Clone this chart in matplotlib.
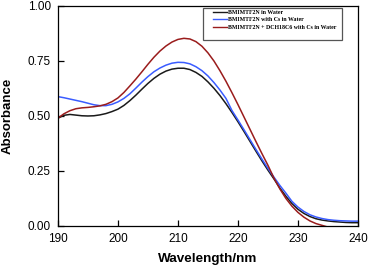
import matplotlib
matplotlib.use("Agg")
import matplotlib.pyplot as plt
from matplotlib.patches import Rectangle
import numpy as np

# wavelength grid (nm), 1 nm steps
wavelength = np.arange(190, 241)

abs_water = [0.490, 0.503, 0.507, 0.504, 0.501, 0.500, 0.501, 0.505, 0.511, 0.520,
             0.531, 0.548, 0.570, 0.595, 0.622, 0.648, 0.671, 0.690, 0.704, 0.713,
             0.717, 0.717, 0.711, 0.698, 0.680, 0.655, 0.626, 0.593, 0.556, 0.516,
             0.474, 0.430, 0.385, 0.340, 0.296, 0.254, 0.214, 0.172, 0.135, 0.102,
             0.076, 0.057, 0.043, 0.033, 0.027, 0.023, 0.020, 0.018, 0.016, 0.015,
             0.015]

abs_cs = [0.588, 0.583, 0.577, 0.571, 0.565, 0.558, 0.551, 0.547, 0.547, 0.553,
          0.564, 0.580, 0.601, 0.627, 0.654, 0.679, 0.701, 0.718, 0.731, 0.740,
          0.744, 0.743, 0.737, 0.724, 0.706, 0.682, 0.652, 0.618, 0.580, 0.525,
          0.482, 0.438, 0.393, 0.348, 0.304, 0.262, 0.222, 0.184, 0.149, 0.112,
          0.086, 0.066, 0.051, 0.041, 0.034, 0.029, 0.026, 0.024, 0.023, 0.022,
          0.022]

abs_dch = [0.490, 0.510, 0.524, 0.533, 0.537, 0.539, 0.542, 0.546, 0.553, 0.565,
           0.582, 0.607, 0.637, 0.668, 0.701, 0.735, 0.767, 0.795, 0.818, 0.836,
           0.848, 0.853, 0.850, 0.838, 0.817, 0.787, 0.750, 0.706, 0.658, 0.606,
           0.552, 0.496, 0.440, 0.384, 0.329, 0.276, 0.218, 0.168, 0.125, 0.090,
           0.062, 0.040, 0.023, 0.011, 0.003, -0.005, -0.010, -0.012, -0.013, -0.014,
           -0.014]

labels = ["BMIMTF2N in Water",
          "BMIMTF2N with Cs in Water",
          "BMIMTF2N + DCH18C6 with Cs in Water"]

fig = plt.figure(figsize=(3.69, 2.67), dpi=100)
ax = fig.add_axes([0.157, 0.1536, 0.813, 0.824])

ax.plot(wavelength, abs_water, color="#1a1a1a", lw=1.1, label=labels[0])
ax.plot(wavelength, abs_cs, color="#3a5cff", lw=1.1, label=labels[1])
ax.plot(wavelength, abs_dch, color="#9a1c1c", lw=1.1, label=labels[2])

ax.set_xlim(190, 240)
ax.set_ylim(0, 1.0)
ax.set_xticks([190, 200, 210, 220, 230, 240])
ax.set_yticks([0, 0.25, 0.5, 0.75, 1.0])
ax.set_yticklabels(["0.00", "0.25", "0.50", "0.75", "1.00"])

for lab in ax.get_xticklabels() + ax.get_yticklabels():
    lab.set_fontfamily("Liberation Sans")
    lab.set_fontsize(8.5)
ax.tick_params(direction="in", length=4, width=0.9, pad=5)
for sp in ax.spines.values():
    sp.set_linewidth(0.9)

ax.set_xlabel("Wavelength/nm", family="Liberation Sans", fontweight="bold",
              fontsize=9.7, labelpad=6)
ax.set_ylabel("Absorbance", family="Liberation Sans", fontweight="bold",
              fontsize=9.5, labelpad=10)

# legend box drawn separately (the original frame has extra room at the bottom)
ax.add_patch(Rectangle((0.482, 0.845), 0.465, 0.147, transform=ax.transAxes,
                       facecolor="white", edgecolor="#555555", lw=0.9, zorder=4))
leg = ax.legend(loc="upper left", bbox_to_anchor=(0.518, 0.983),
                prop={"family": "Liberation Serif", "weight": "bold", "size": 4.2},
                handlelength=2.3, handletextpad=0.3, labelspacing=0.4,
                borderpad=0, borderaxespad=0, frameon=False)
leg.set_zorder(5)
for line in leg.get_lines():
    line.set_linewidth(1.0)

fig.savefig("out.png", dpi=100)
